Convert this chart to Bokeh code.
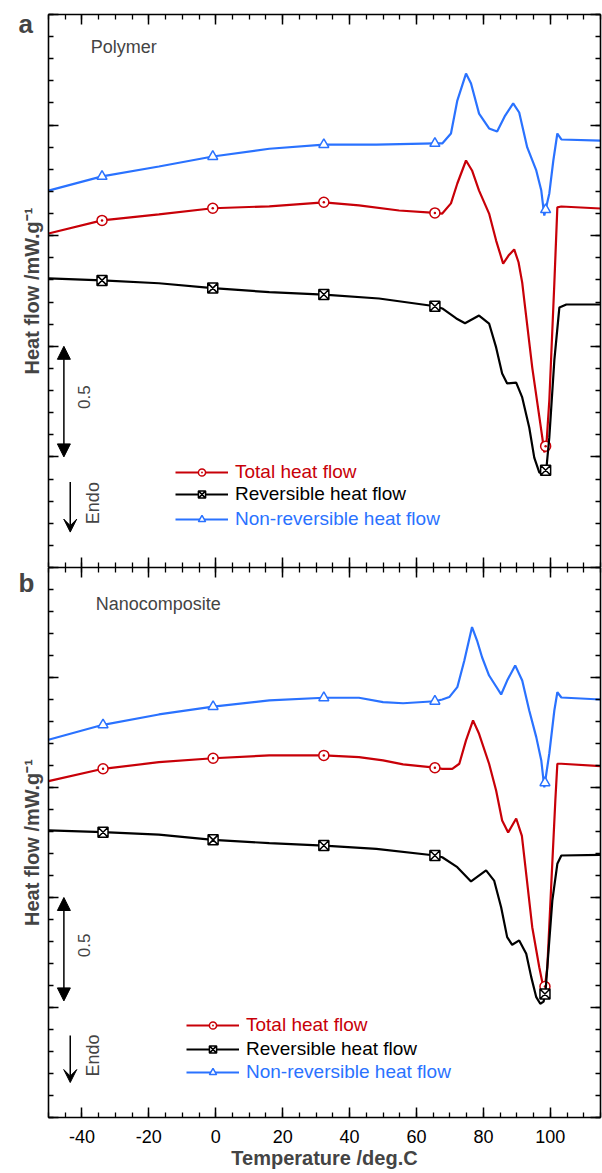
import math
import numpy as np
from bokeh.plotting import figure
from bokeh.models import (LinearAxis, FixedTicker, Range1d, Legend, LegendItem,
                          Label, Arrow, NormalHead, VeeHead)
from bokeh.layouts import column
from bokeh.embed import file_html
from bokeh.resources import INLINE

FONT = "Liberation Sans"
RED = "#c80008"
BLACK = "#000000"
BLUE = "#2a72ff"

# ---------------- data ----------------
x_major = [-40, -20, 0, 20, 40, 60, 80, 100]
x_minor = list(range(-50, 116, 5))
y_major = [0, 0.5, 1.0, 1.5, 2.0, 2.5]
y_minor = [round(0.1 * i, 1) for i in range(26)]

labels = ["Total heat flow", "Reversible heat flow", "Non-reversible heat flow"]

# Panel a : Polymer
temp_a_total = [-50, -34, -17, -0.9, 16, 32.3, 42.8, 54.8, 65.5, 67.7, 70.3, 72.2, 74.8, 76.6,
                78.7, 81.7, 83.8, 85.9, 87.5, 89.2, 90.5, 91.6, 92.2, 94.6, 97.6, 98.2, 98.9,
                99.7, 101.2, 102.1, 103.3, 115]
total_a = [1.510, 1.569, 1.596, 1.624, 1.633, 1.651, 1.637, 1.614, 1.603, 1.600, 1.646, 1.736,
           1.840, 1.795, 1.704, 1.600, 1.478, 1.374, 1.410, 1.438, 1.380, 1.288, 1.210, 0.904,
           0.588, 0.520, 0.570, 0.755, 1.284, 1.628, 1.632, 1.623]

temp_a_rev = [-50, -34, -17, -0.9, 16, 32.3, 48.8, 65.6, 67.7, 71.9, 74.5, 78.7, 81.7, 83.8,
              85.6, 87.1, 89.8, 91.6, 93.7, 95.2, 96.7, 97.6, 98.8, 99.7, 101.2, 102.7, 104.8, 115]
rev_a = [1.307, 1.298, 1.285, 1.263, 1.245, 1.234, 1.216, 1.181, 1.171, 1.126, 1.104, 1.139,
         1.103, 0.995, 0.877, 0.832, 0.836, 0.769, 0.633, 0.497, 0.430, 0.425, 0.443, 0.588,
         0.936, 1.175, 1.189, 1.189]

temp_a_nrev = [-50, -34, -17, -0.9, 16, 32.3, 48, 65.5, 67.7, 70.3, 72.2, 74.8, 76.3, 78.7,
               81.7, 84.1, 86.5, 88.9, 90.7, 93.1, 95.8, 97.3, 98.2, 99.7, 100.9, 102.1, 103.3, 115]
nrev_a = [1.704, 1.768, 1.813, 1.858, 1.893, 1.912, 1.912, 1.917, 1.917, 1.962, 2.111, 2.233,
          2.188, 2.052, 1.985, 1.971, 2.043, 2.098, 2.057, 1.899, 1.795, 1.704, 1.591, 1.691,
          1.840, 1.962, 1.935, 1.930]

markers_a = [-34, -0.9, 32.3, 65.5, 98.6]

# Panel b : Nanocomposite
temp_b_total = [-50, -33.7, -17, -0.8, 16, 32.3, 42.8, 50, 56, 65.5, 67.7, 70.7, 72.8, 74.8,
                76.9, 78.7, 81.7, 83.8, 85.6, 87.4, 89.8, 91.5, 94.6, 96.7, 98.2, 99.1, 100.3,
                101.5, 102.1, 103.3, 115]
total_b = [1.529, 1.585, 1.615, 1.633, 1.646, 1.646, 1.638, 1.623, 1.605, 1.590, 1.585, 1.585,
           1.608, 1.714, 1.805, 1.744, 1.608, 1.486, 1.350, 1.296, 1.359, 1.280, 0.865, 0.683,
           0.570, 0.683, 1.064, 1.441, 1.608, 1.608, 1.597]

temp_b_rev = [-50, -33.7, -17, -0.8, 16, 32.3, 48, 65.6, 67.7, 72.2, 76.3, 80.8, 83.2, 85.3,
              87.1, 88.6, 90.7, 92.8, 94.3, 95.8, 97.0, 98.0, 98.6, 99.1, 100.6, 102.1, 103.3, 115]
rev_b = [1.305, 1.297, 1.286, 1.262, 1.247, 1.236, 1.221, 1.191, 1.183, 1.138, 1.073, 1.123,
         1.077, 0.956, 0.820, 0.785, 0.805, 0.744, 0.638, 0.547, 0.517, 0.527, 0.578, 0.683,
         0.986, 1.153, 1.191, 1.194]

temp_b_nrev = [-50, -33.7, -17, -0.8, 16, 32.3, 42.8, 50, 56, 65.5, 67.7, 69.8, 72.2, 74.3,
               76.6, 78.1, 79.6, 81.7, 83.8, 85.3, 87.1, 89.5, 91.6, 93.7, 95.8, 97.3, 98.2,
               99.7, 101.2, 102.1, 103.3, 115]
nrev_b = [1.717, 1.785, 1.832, 1.868, 1.896, 1.908, 1.908, 1.888, 1.883, 1.892, 1.900, 1.911,
          1.956, 2.077, 2.229, 2.168, 2.092, 2.009, 1.959, 1.923, 1.986, 2.055, 1.986, 1.850,
          1.729, 1.623, 1.501, 1.655, 1.850, 1.933, 1.909, 1.900]

markers_b = [-33.7, -0.8, 32.3, 65.5, 98.4]


def style_axis(ax, ticks, minor, show_labels=False):
    ax.ticker = FixedTicker(ticks=ticks, minor_ticks=minor)
    ax.major_tick_in = 10
    ax.major_tick_out = 0
    ax.minor_tick_in = 5
    ax.minor_tick_out = 0
    ax.axis_line_width = 1.6
    ax.major_tick_line_width = 1.5
    ax.minor_tick_line_width = 1.3
    ax.axis_line_color = "black"
    ax.major_tick_line_color = "black"
    ax.minor_tick_line_color = "black"
    if show_labels:
        ax.major_label_text_font = FONT
        ax.major_label_text_font_size = "18px"
        ax.major_label_text_color = "black"
        ax.major_label_standoff = 12
        ax.major_label_overrides = {t: str(t) for t in ticks}
    else:
        ax.major_label_text_font_size = "0px"
        ax.major_label_text_color = None
        ax.major_label_standoff = 0


def make_panel(frame_h, border_top, border_bottom, series, markers, name,
               legend_pos, legend_x, arrow_y, half_y, endo_y, endo_txt_y, name_xy,
               bottom_labels):
    p = figure(frame_width=552, frame_height=frame_h, x_range=Range1d(-50, 115),
               y_range=Range1d(0, 2.5), output_backend="svg", toolbar_location=None,
               min_border_left=48, min_border_right=2, min_border_top=border_top,
               min_border_bottom=border_bottom, title=None)
    p.outline_line_color = None
    p.xgrid.visible = False
    p.ygrid.visible = False
    p.background_fill_color = "white"
    p.border_fill_color = "white"

    style_axis(p.xaxis[0], x_major, x_minor, show_labels=bottom_labels)
    style_axis(p.yaxis[0], y_major, y_minor)
    if bottom_labels:
        p.xaxis[0].axis_label = "Temperature /deg.C"
        p.xaxis[0].axis_label_text_font = FONT
        p.xaxis[0].axis_label_text_font_style = "bold"
        p.xaxis[0].axis_label_text_font_size = "20px"
        p.xaxis[0].axis_label_standoff = 1
    p.yaxis[0].axis_label = "Heat flow /mW.g\u207b\u00b9"
    p.yaxis[0].axis_label_text_font = FONT
    p.yaxis[0].axis_label_text_font_style = "bold"
    p.yaxis[0].axis_label_text_font_size = "20px"
    p.yaxis[0].axis_label_standoff = 6

    top = LinearAxis()
    style_axis(top, x_major, x_minor)
    p.add_layout(top, "above")
    right = LinearAxis()
    style_axis(right, y_major, y_minor)
    p.add_layout(right, "right")

    marker_kinds = ["circle_dot", "square_x", "triangle"]
    colors = [RED, BLACK, BLUE]
    items = []
    for (xs, ys), mk, col, lab in zip(series, marker_kinds, colors, labels):
        rl = p.line(xs, ys, line_color=col, line_width=2.2)
        my = np.interp(markers, xs, ys)
        rs = p.scatter(markers, my, marker=mk, size=10, line_color=col, fill_color="white",
                       line_width=1.5)
        items.append((lab, col, [rl, rs]))

    for (lab, col, rends), ly in zip(items, legend_pos):
        leg = Legend(items=[LegendItem(label=lab, renderers=rends)], location=(legend_x, ly),
                     label_text_color=col, label_text_font=FONT, label_text_font_size="19px",
                     glyph_width=53, glyph_height=18, label_height=18, label_standoff=7,
                     padding=0, margin=0, border_line_alpha=0, background_fill_alpha=0,
                     spacing=0)
        p.add_layout(leg)

    head = dict(size=13, fill_color="black", line_color="black")
    p.add_layout(Arrow(start=NormalHead(**head), end=NormalHead(**head),
                       x_start=-45.4, y_start=arrow_y[0], x_end=-45.4, y_end=arrow_y[1],
                       line_width=1.5, line_color="black"))
    p.add_layout(Label(x=-39.4, y=half_y, text="0.5", angle=math.pi / 2, text_align="center",
                       text_baseline="middle", text_font=FONT, text_font_size="17px"))
    p.add_layout(Arrow(end=VeeHead(size=13, fill_color="black", line_color="black"),
                       x_start=-43.5, y_start=endo_y[0], x_end=-43.5, y_end=endo_y[1],
                       line_width=1.5, line_color="black"))
    p.add_layout(Label(x=-36.8, y=endo_txt_y, text="Endo", angle=math.pi / 2,
                       text_align="center", text_baseline="middle", text_font=FONT,
                       text_font_size="18px"))
    p.add_layout(Label(x=name_xy[0], y=name_xy[1], text=name, text_font=FONT,
                       text_font_size="18px", text_baseline="alphabetic"))
    return p


pa = make_panel(553, 14, 0,
                [(temp_a_total, total_a), (temp_a_rev, rev_a), (temp_a_nrev, nrev_a)],
                markers_a, "Polymer", [84, 62, 37], 127,
                (0.5, 1.0), 0.77, (0.386, 0.160), 0.291, (-37.4, 2.352),
                bottom_labels=False)

pb = make_panel(550, 0, 56,
                [(temp_b_total, total_b), (temp_b_rev, rev_b), (temp_b_nrev, nrev_b)],
                markers_b, "Nanocomposite", [81, 57, 34], 138,
                (0.53, 1.0), 0.782, (0.373, 0.159), 0.282, (-35.9, 2.336),
                bottom_labels=True)

# panel letters: placed in the left side panels (annotations there are not clipped to the frame)
pa.add_layout(Label(x=-59.0, y=2.456, text="a", text_font=FONT, text_font_style="bold",
                    text_font_size="26px", text_baseline="alphabetic"), "left")
pb.add_layout(Label(x=-59.0, y=2.428, text="b", text_font=FONT, text_font_style="bold",
                    text_font_size="26px", text_baseline="alphabetic"), "left")

layout = column(pa, pb, spacing=0)
open("out.html", "w").write(file_html(layout, INLINE))
